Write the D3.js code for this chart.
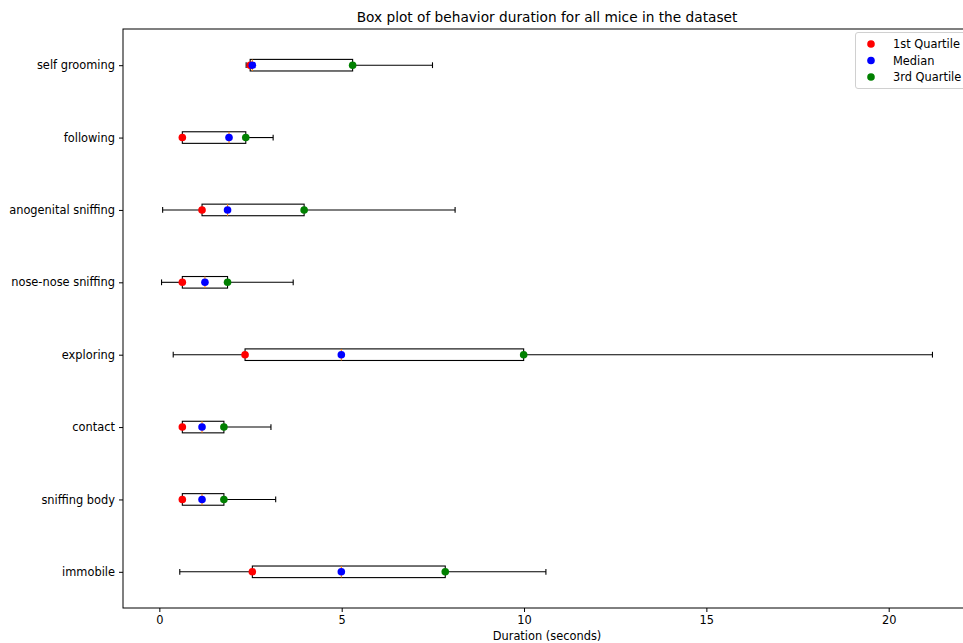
<!DOCTYPE html>
<html>
<head>
<meta charset="utf-8">
<script src="https://cdn.jsdelivr.net/npm/d3@7"></script>
<style>
  body { margin: 0; background: #fff; overflow: hidden; }
  svg { display: block; font-family: "DejaVu Sans", sans-serif; }
</style>
</head>
<body>
<div id="chart"></div>
<script>
// Behaviours, bottom to top as in the figure
const categories = ['immobile', 'sniffing body', 'contact', 'exploring',
    'nose-nose sniffing', 'anogenital sniffing', 'following', 'self grooming'];

// Box plot stats (seconds)
const whiskerLow  = [0.56, 0.60, 0.60, 0.38, 0.06, 0.09, 0.63, 2.38];
const q1          = [2.55, 0.63, 0.63, 2.35, 0.63, 1.17, 0.63, 2.49];
const median      = [4.99, 1.17, 1.17, 4.99, 1.25, 1.87, 1.91, 2.55];
const q3          = [7.84, 1.77, 1.77, 9.99, 1.87, 3.97, 2.37, 5.30];
const whiskerHigh = [10.6, 3.19, 3.06, 21.2, 3.67, 8.11, 3.12, 7.49];

const xTicks = [0, 5, 10, 15, 20];
const legendItems = [
    { label: '1st Quartile', color: 'red', key: q1 },
    { label: 'Median', color: 'blue', key: median },
    { label: '3rd Quartile', color: 'green', key: q3 },
];

const width = 963, height = 643;
const margin = { top: 29, left: 123, bottom: 35 };
const plotRight = 971; // axes run a little past the window edge
const fs = 11.4;

const rows = categories.map((c, i) => ({
    name: c, pos: i + 1,
    lo: whiskerLow[i], q1: q1[i], med: median[i], q3: q3[i], hi: whiskerHigh[i],
}));

const svg = d3.select('#chart').append('svg')
    .attr('width', width).attr('height', height);

// matplotlib-style 5% margins around the data
const xmin = d3.min(whiskerLow), xmax = d3.max(whiskerHigh);
const pad = (xmax - xmin) * 0.05;
const x = d3.scaleLinear().domain([xmin - pad, xmax + pad])
    .range([margin.left, plotRight]);
const y = d3.scaleLinear().domain([0.5, categories.length + 0.5])
    .range([height - margin.bottom, margin.top]);

const boxW = 0.16;
const bh = y(0) - y(boxW);
const capH = y(0) - y(boxW / 2);

const g = svg.append('g');

// whiskers, caps, boxes, medians
rows.forEach(d => {
    const cy = y(d.pos);
    g.append('line').attr('x1', x(d.lo)).attr('x2', x(d.q1))
        .attr('y1', cy).attr('y2', cy).attr('stroke', '#000').attr('stroke-width', 1.1);
    g.append('line').attr('x1', x(d.q3)).attr('x2', x(d.hi))
        .attr('y1', cy).attr('y2', cy).attr('stroke', '#000').attr('stroke-width', 1.1);
    [d.lo, d.hi].forEach(v => {
        g.append('line').attr('x1', x(v)).attr('x2', x(v))
            .attr('y1', cy - capH / 2).attr('y2', cy + capH / 2)
            .attr('stroke', '#000').attr('stroke-width', 1.1);
    });
    g.append('rect')
        .attr('x', x(d.q1)).attr('y', cy - bh / 2)
        .attr('width', x(d.q3) - x(d.q1)).attr('height', bh)
        .attr('fill', 'none').attr('stroke', '#000').attr('stroke-width', 1.1);
    g.append('line').attr('x1', x(d.med)).attr('x2', x(d.med))
        .attr('y1', cy - bh / 2).attr('y2', cy + bh / 2)
        .attr('stroke', '#ff7f0e').attr('stroke-width', 1.1);
});

// quartile markers
legendItems.forEach(item => {
    g.selectAll(null).data(rows).enter().append('circle')
        .attr('cx', (d, i) => x(item.key[i]))
        .attr('cy', d => y(d.pos))
        .attr('r', 3.8)
        .attr('fill', item.color);
});

// axes
const xAxis = svg.append('g')
    .attr('transform', `translate(0,${height - margin.bottom})`)
    .call(d3.axisBottom(x).tickValues(xTicks).tickSize(4).tickPadding(4).tickFormat(d3.format('d')));
const yAxis = svg.append('g')
    .attr('transform', `translate(${margin.left},0)`)
    .call(d3.axisLeft(y).tickValues(rows.map(d => d.pos)).tickSize(4).tickPadding(4)
        .tickFormat(d => categories[d - 1]));
[xAxis, yAxis].forEach(a => {
    a.selectAll('text').attr('font-size', fs).attr('font-family', 'DejaVu Sans').attr('fill', '#000');
    a.selectAll('line').attr('stroke', '#000').attr('stroke-width', 1);
    a.select('.domain').remove();
});

// spines
svg.append('rect')
    .attr('x', margin.left).attr('y', margin.top)
    .attr('width', plotRight - margin.left).attr('height', height - margin.bottom - margin.top)
    .attr('fill', 'none').attr('stroke', '#000').attr('stroke-width', 1);

const midX = (margin.left + plotRight) / 2;
svg.append('text').attr('x', midX).attr('y', 22)
    .attr('text-anchor', 'middle').attr('font-size', 13.7)
    .text('Box plot of behavior duration for all mice in the dataset');
svg.append('text').attr('x', midX).attr('y', 640)
    .attr('text-anchor', 'middle').attr('font-size', fs)
    .text('Duration (seconds)');

// legend
const lg = svg.append('g').attr('transform', 'translate(855.5,32.5)');
lg.append('rect').attr('width', 112).attr('height', 56).attr('rx', 2.5)
    .attr('fill', '#fff').attr('fill-opacity', 0.8).attr('stroke', '#d0d0d0');
legendItems.forEach((item, i) => {
    const ly = 11.5 + i * 16.5;
    lg.append('circle').attr('cx', 15.5).attr('cy', ly).attr('r', 3.8).attr('fill', item.color);
    lg.append('text').attr('x', 37.5).attr('y', ly + 4).attr('font-size', fs).text(item.label);
});
</script>
</body>
</html>
